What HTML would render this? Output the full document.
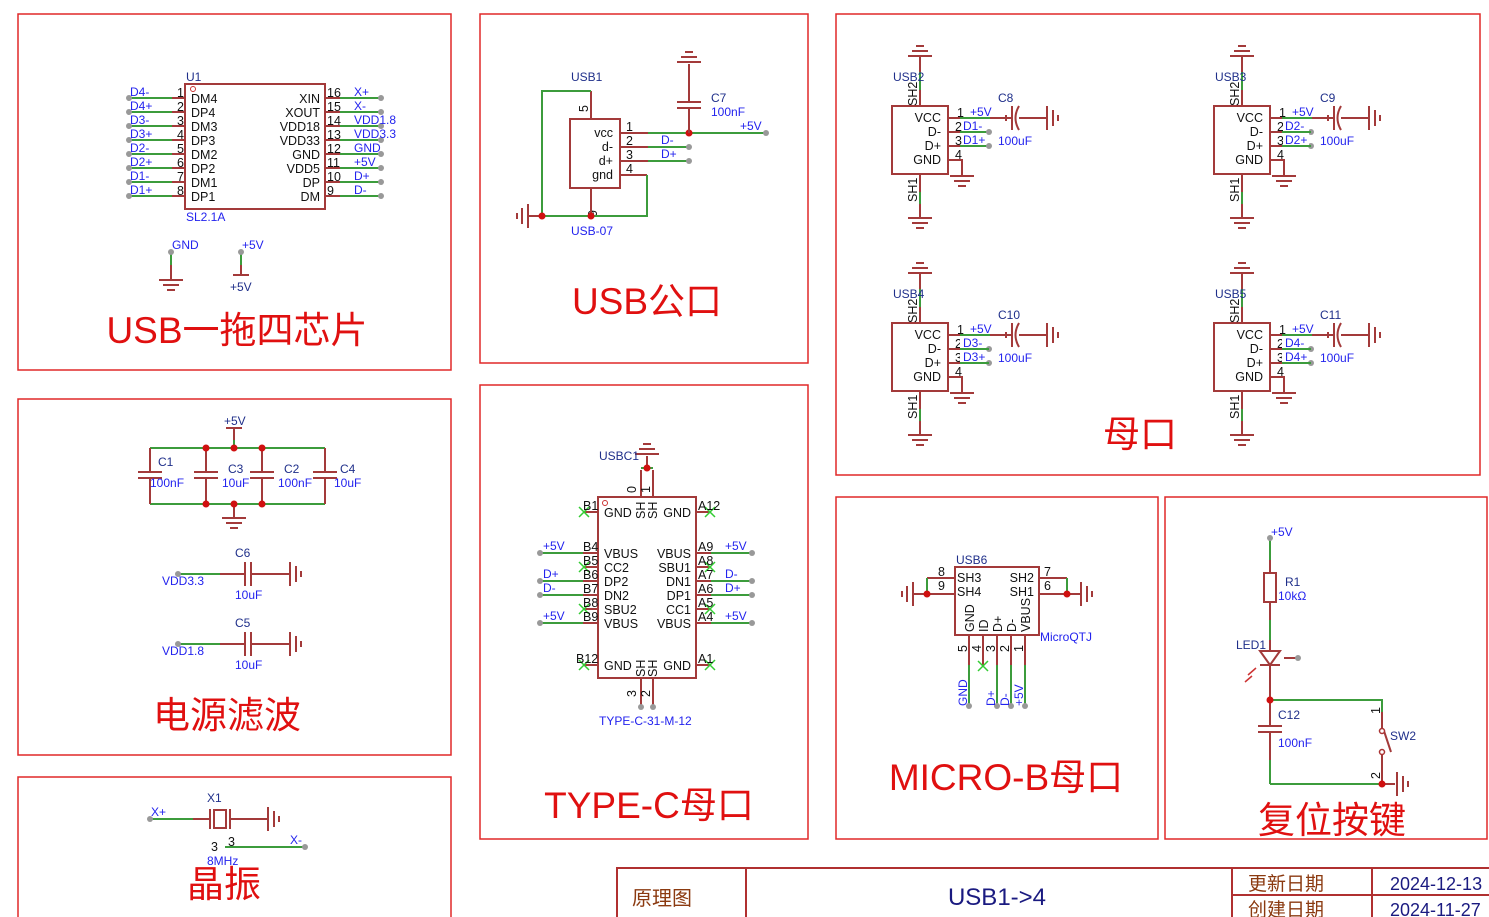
<!DOCTYPE html>
<html><head><meta charset="utf-8"><style>
html,body{margin:0;padding:0;background:#fff}
svg{display:block}
text{font-family:"Liberation Sans","Noto Sans CJK SC",sans-serif}
.g{stroke:#3c9c3c;stroke-width:2;fill:none}
.r{stroke:#a33a3a;stroke-width:2;fill:none}
.f{stroke:#e02828;stroke-width:1.5;fill:none}
.bx{stroke:#a33a3a;stroke-width:2;fill:none}
.k{font-size:12.5px;fill:#111}
.n{font-size:11px;fill:#111}
.b{font-size:12px;fill:#2323ee}
.d{font-size:12px;fill:#1f2f8a}
.t{font-size:37px;fill:#e01010}
.dot{fill:#999}
.j{fill:#d01010}
.x{stroke:#3c3;stroke-width:1.5}
</style></head><body>
<svg width="1489" height="917" viewBox="0 0 1489 917" xmlns="http://www.w3.org/2000/svg">
<defs>
<g id="gd" class="r"><path d="M-12 0H12M-8 5H8M-4 10H4"/></g>
<g id="gu" class="r"><path d="M-12 0H12M-8 -5H8M-4 -10H4"/></g>
<g id="gr" class="r"><path d="M0 -12V12M6 -8V8M11 -3V3"/></g>
<g id="gl" class="r"><path d="M0 -12V12M-6 -8V8M-11 -3V3"/></g>
</defs>

<!-- frames -->
<rect class="f" x="18" y="14" width="433" height="356"/>
<rect class="f" x="480" y="14" width="328" height="349"/>
<rect class="f" x="836" y="14" width="644" height="461"/>
<rect class="f" x="18" y="399" width="433" height="356"/>
<rect class="f" x="480" y="385" width="328" height="454"/>
<rect class="f" x="836" y="497" width="322" height="342"/>
<rect class="f" x="1165" y="497" width="322" height="342"/>
<rect class="f" x="18" y="777" width="433" height="145"/>
<path d="M617 920V868H1489M746 868V920M1232 868V920M1372 868V920M1232 895H1489" stroke="#b03030" stroke-width="2" fill="none"/>
<text x="632" y="905" style="font-size:20px;fill:#8b3a10">原理图</text>
<text x="997" y="905" text-anchor="middle" style="font-size:24px;fill:#1a1a80">USB1-&gt;4</text>
<text x="1248" y="890" style="font-size:19px;fill:#8b3a10">更新日期</text>
<text x="1248" y="916" style="font-size:19px;fill:#8b3a10">创建日期</text>
<text x="1390" y="890" style="font-size:18px;fill:#1a1a80">2024-12-13</text>
<text x="1390" y="916" style="font-size:18px;fill:#1a1a80">2024-11-27</text>

<!-- titles -->
<text class="t" x="237" y="343" text-anchor="middle">USB一拖四芯片</text>
<text class="t" x="647" y="314" text-anchor="middle">USB公口</text>
<text class="t" x="1140" y="447" text-anchor="middle">母口</text>
<text class="t" x="227" y="728" text-anchor="middle">电源滤波</text>
<text class="t" x="649" y="818" text-anchor="middle">TYPE-C母口</text>
<text class="t" x="1006" y="790" text-anchor="middle">MICRO-B母口</text>
<text class="t" x="1332" y="833" text-anchor="middle">复位按键</text>
<text class="t" x="224" y="897" text-anchor="middle">晶振</text>

<!-- ===== U1 ===== -->
<rect class="bx" x="185" y="84" width="140" height="125"/>
<circle cx="193" cy="89" r="2.5" fill="none" stroke="#c33" stroke-width="1"/>
<text class="d" x="186" y="81">U1</text>
<text class="b" x="186" y="221">SL2.1A</text>
<path class="g" d="M129 98H172M129 112H172M129 126H172M129 140H172M129 154H172M129 168H172M129 182H172M129 196H172"/>
<path class="r" d="M172 98H185M172 112H185M172 126H185M172 140H185M172 154H185M172 168H185M172 182H185M172 196H185"/>
<path class="g" d="M340 98H381M340 112H381M340 126H381M340 140H381M340 154H381M340 168H381M340 182H381M340 196H381"/>
<path class="r" d="M325 98H340M325 112H340M325 126H340M325 140H340M325 154H340M325 168H340M325 182H340M325 196H340"/>
<g class="dot"><circle cx="129" cy="98" r="3"/><circle cx="129" cy="112" r="3"/><circle cx="129" cy="126" r="3"/><circle cx="129" cy="140" r="3"/><circle cx="129" cy="154" r="3"/><circle cx="129" cy="168" r="3"/><circle cx="129" cy="182" r="3"/><circle cx="129" cy="196" r="3"/>
<circle cx="381" cy="98" r="3"/><circle cx="381" cy="112" r="3"/><circle cx="381" cy="126" r="3"/><circle cx="381" cy="140" r="3"/><circle cx="381" cy="154" r="3"/><circle cx="381" cy="168" r="3"/><circle cx="381" cy="182" r="3"/><circle cx="381" cy="196" r="3"/></g>
<g class="b"><text x="130" y="96">D4-</text><text x="130" y="110">D4+</text><text x="130" y="124">D3-</text><text x="130" y="138">D3+</text><text x="130" y="152">D2-</text><text x="130" y="166">D2+</text><text x="130" y="180">D1-</text><text x="130" y="194">D1+</text>
<text x="354" y="96">X+</text><text x="354" y="110">X-</text><text x="354" y="124">VDD1.8</text><text x="354" y="138">VDD3.3</text><text x="354" y="152">GND</text><text x="354" y="166">+5V</text><text x="354" y="180">D+</text><text x="354" y="194">D-</text></g>
<g class="k" text-anchor="end"><text x="184" y="97">1</text><text x="184" y="111">2</text><text x="184" y="125">3</text><text x="184" y="139">4</text><text x="184" y="153">5</text><text x="184" y="167">6</text><text x="184" y="181">7</text><text x="184" y="195">8</text></g>
<g class="k"><text x="191" y="103">DM4</text><text x="191" y="117">DP4</text><text x="191" y="131">DM3</text><text x="191" y="145">DP3</text><text x="191" y="159">DM2</text><text x="191" y="173">DP2</text><text x="191" y="187">DM1</text><text x="191" y="201">DP1</text>
<text x="327" y="97">16</text><text x="327" y="111">15</text><text x="327" y="125">14</text><text x="327" y="139">13</text><text x="327" y="153">12</text><text x="327" y="167">11</text><text x="327" y="181">10</text><text x="327" y="195">9</text></g>
<g class="k" text-anchor="end"><text x="320" y="103">XIN</text><text x="320" y="117">XOUT</text><text x="320" y="131">VDD18</text><text x="320" y="145">VDD33</text><text x="320" y="159">GND</text><text x="320" y="173">VDD5</text><text x="320" y="187">DP</text><text x="320" y="201">DM</text></g>
<path class="g" d="M171 252V265M241 252V265"/><path class="r" d="M171 265V280M241 265V275M233 275H249"/>
<use href="#gd" x="171" y="280"/>
<circle class="dot" cx="171" cy="252" r="3"/><circle class="dot" cx="241" cy="252" r="3"/>
<text class="b" x="172" y="249">GND</text><text class="b" x="242" y="249">+5V</text><text class="d" x="230" y="291">+5V</text>

<!-- ===== USB1 ===== -->
<rect class="bx" x="570" y="119" width="50" height="69"/>
<text class="d" x="571" y="81">USB1</text><text class="b" x="571" y="235">USB-07</text>
<g class="k" text-anchor="end"><text x="613" y="137">vcc</text><text x="613" y="151">d-</text><text x="613" y="165">d+</text><text x="613" y="179">gnd</text></g>
<g class="k"><text x="626" y="131">1</text><text x="626" y="145">2</text><text x="626" y="159">3</text><text x="626" y="173">4</text></g>
<text class="k" transform="translate(588,112) rotate(-90)">5</text>
<text class="k" transform="translate(588,210) rotate(90)">6</text>
<path class="r" d="M620 133H648M620 147H648M620 161H648M620 175H647M591 119V91M591 188V216M528 216H542"/>
<path class="g" d="M648 133H766M648 147H689M648 161H689M647 175V216H542V91H591"/>
<use href="#gl" x="528" y="216"/>
<circle class="j" cx="542" cy="216" r="3.5"/><circle class="j" cx="591" cy="216" r="3.5"/><circle class="j" cx="689" cy="133" r="3.5"/>
<g class="dot"><circle cx="766" cy="133" r="3"/><circle cx="689" cy="147" r="3"/><circle cx="689" cy="161" r="3"/></g>
<text class="b" x="661" y="144">D-</text><text class="b" x="661" y="158">D+</text><text class="b" x="740" y="130">+5V</text>
<path class="r" d="M689 133V108M677 108H701M677 102H701M689 102V64"/>
<use href="#gu" x="689" y="62"/>
<text class="d" x="711" y="102">C7</text><text class="b" x="711" y="116">100nF</text>

<!-- ===== USB2..5 ===== -->
<g id="usbA">
<rect class="bx" x="892" y="106" width="56" height="68"/>
<g class="k" text-anchor="end"><text x="941" y="122">VCC</text><text x="941" y="136">D-</text><text x="941" y="150">D+</text><text x="941" y="164">GND</text></g>
<g class="k"><text x="957" y="117">1</text><text x="955" y="131">2</text><text x="955" y="145">3</text><text x="955" y="159">4</text></g>
<path class="r" d="M948 118H960M990 118H1012M948 132H960M948 146H960M948 160H962V176M920 106V56M920 174V218M1019 118H1047M1006 115V121M1003 118H1009M1012 106V130"/>
<path d="M1019 106Q1012 118 1019 130" stroke="#a33a3a" stroke-width="2" fill="none"/>
<path class="g" d="M960 118H990M960 132H989M960 146H989M920 72V90M920 192V204"/>
<use href="#gd" x="962" y="176"/><use href="#gu" x="920" y="56"/><use href="#gd" x="920" y="218"/><use href="#gr" x="1047" y="118"/>
<circle class="dot" cx="989" cy="132" r="3"/><circle class="dot" cx="989" cy="146" r="3"/>
<text class="k" transform="translate(917,106) rotate(-90)">SH2</text>
<text class="k" transform="translate(917,202) rotate(-90)">SH1</text>
<text class="b" x="970" y="116">+5V</text><text class="d" x="998" y="102">C8</text><text class="b" x="998" y="145">100uF</text>
</g>
<text class="d" x="893" y="81">USB2</text>
<g class="b"><text x="963" y="130">D1-</text><text x="963" y="144">D1+</text></g>
<g transform="translate(322,0)"><use href="#usbA"/></g>
<rect x="1310" y="92" width="30" height="12" fill="#fff"/><text class="d" x="1320" y="102">C9</text>
<rect x="1283" y="121" width="26" height="26" fill="#fff"/>
<path class="g" d="M1282 132H1311M1282 146H1311"/>
<text class="d" x="1215" y="81">USB3</text>
<g class="b"><text x="1285" y="130">D2-</text><text x="1285" y="144">D2+</text></g>
<g transform="translate(0,217)"><use href="#usbA"/></g>
<rect x="960" y="338" width="26" height="26" fill="#fff"/><rect x="996" y="309" width="26" height="12" fill="#fff"/>
<path class="g" d="M960 349H989M960 363H989"/>
<text class="d" x="998" y="319">C10</text>
<text class="d" x="893" y="298">USB4</text>
<g class="b"><text x="963" y="347">D3-</text><text x="963" y="361">D3+</text></g>
<g transform="translate(322,217)"><use href="#usbA"/></g>
<rect x="1282" y="338" width="26" height="26" fill="#fff"/><rect x="1318" y="309" width="26" height="12" fill="#fff"/>
<path class="g" d="M1282 349H1311M1282 363H1311"/>
<text class="d" x="1320" y="319">C11</text>
<text class="d" x="1215" y="298">USB5</text>
<g class="b"><text x="1285" y="347">D4-</text><text x="1285" y="361">D4+</text></g>

<!-- ===== power filter ===== -->
<path class="g" d="M150 448H325M150 504H325M234 448V440"/>
<path class="r" d="M150 448V472M150 478V504M138 472H162M138 478H162M206 448V472M206 478V504M194 472H218M194 478H218M262 448V472M262 478V504M250 472H274M250 478H274M325 448V472M325 478V504M313 472H337M313 478H337M234 440V428M226 428H242M234 504V518"/>
<use href="#gd" x="234" y="518"/>
<g class="j"><circle cx="206" cy="448" r="3.5"/><circle cx="234" cy="448" r="3.5"/><circle cx="262" cy="448" r="3.5"/><circle cx="206" cy="504" r="3.5"/><circle cx="234" cy="504" r="3.5"/><circle cx="262" cy="504" r="3.5"/></g>
<text class="d" x="224" y="425">+5V</text>
<text class="d" x="158" y="466">C1</text><text class="b" x="150" y="487">100nF</text>
<text class="d" x="228" y="473">C3</text><text class="b" x="222" y="487">10uF</text>
<text class="d" x="284" y="473">C2</text><text class="b" x="278" y="487">100nF</text>
<text class="d" x="340" y="473">C4</text><text class="b" x="334" y="487">10uF</text>
<path class="g" d="M178 574H220M178 644H220"/>
<path class="r" d="M220 574H245M251 574H290M245 562V586M251 562V586M220 644H245M251 644H290M245 632V656M251 632V656"/>
<use href="#gr" x="290" y="574"/><use href="#gr" x="290" y="644"/>
<circle class="dot" cx="178" cy="574" r="3"/><circle class="dot" cx="178" cy="644" r="3"/>
<text class="d" x="235" y="557">C6</text><text class="b" x="235" y="599">10uF</text><text class="b" x="162" y="585">VDD3.3</text>
<text class="d" x="235" y="627">C5</text><text class="b" x="235" y="669">10uF</text><text class="b" x="162" y="655">VDD1.8</text>

<!-- ===== TYPE-C ===== -->
<rect class="bx" x="598" y="497" width="98" height="181"/>
<circle cx="605" cy="503" r="2.5" fill="none" stroke="#c33" stroke-width="1"/>
<path class="r" d="M583 512H598M583 553H598M583 567H598M583 581H598M583 595H598M583 609H598M583 623H598M583 665H598M696 512H711M696 553H711M696 567H711M696 581H711M696 595H711M696 609H711M696 623H711M696 665H711M641 497V470M653 497V470M647 467V456M641 678V707M653 678V707"/>
<path class="g" d="M540 553H583M540 581H583M540 595H583M540 623H583M711 553H752M711 581H752M711 595H752M711 623H752M641 468H653"/>
<use href="#gu" x="647" y="454"/>
<circle class="j" cx="647" cy="468" r="3.5"/>
<g class="dot"><circle cx="540" cy="553" r="3"/><circle cx="540" cy="581" r="3"/><circle cx="540" cy="595" r="3"/><circle cx="540" cy="623" r="3"/><circle cx="752" cy="553" r="3"/><circle cx="752" cy="581" r="3"/><circle cx="752" cy="595" r="3"/><circle cx="752" cy="623" r="3"/><circle cx="641" cy="707" r="3"/><circle cx="653" cy="707" r="3"/></g>
<g class="x"><path d="M579 507l10 10M589 507l-10 10M579 562l10 10M589 562l-10 10M579 604l10 10M589 604l-10 10M579 660l10 10M589 660l-10 10M705 507l10 10M715 507l-10 10M705 562l10 10M715 562l-10 10M705 604l10 10M715 604l-10 10M705 660l10 10M715 660l-10 10"/></g>
<g class="k"><text x="583" y="510">B1</text><text x="583" y="551">B4</text><text x="583" y="565">B5</text><text x="583" y="579">B6</text><text x="583" y="593">B7</text><text x="583" y="607">B8</text><text x="583" y="621">B9</text><text x="576" y="663">B12</text>
<text x="698" y="510">A12</text><text x="698" y="551">A9</text><text x="698" y="565">A8</text><text x="698" y="579">A7</text><text x="698" y="593">A6</text><text x="698" y="607">A5</text><text x="698" y="621">A4</text><text x="698" y="663">A1</text>
<text x="604" y="517">GND</text><text x="604" y="558">VBUS</text><text x="604" y="572">CC2</text><text x="604" y="586">DP2</text><text x="604" y="600">DN2</text><text x="604" y="614">SBU2</text><text x="604" y="628">VBUS</text><text x="604" y="670">GND</text></g>
<g class="k" text-anchor="end"><text x="691" y="517">GND</text><text x="691" y="558">VBUS</text><text x="691" y="572">SBU1</text><text x="691" y="586">DN1</text><text x="691" y="600">DP1</text><text x="691" y="614">CC1</text><text x="691" y="628">VBUS</text><text x="691" y="670">GND</text></g>
<g class="k"><text transform="translate(645,519) rotate(-90)">SH</text><text transform="translate(657,519) rotate(-90)">SH</text><text transform="translate(645,677) rotate(-90)">SH</text><text transform="translate(657,677) rotate(-90)">SH</text>
<text transform="translate(636,493) rotate(-90)">0</text><text transform="translate(650,493) rotate(-90)">1</text><text transform="translate(636,697) rotate(-90)">3</text><text transform="translate(650,697) rotate(-90)">2</text></g>
<g class="b"><text x="543" y="550">+5V</text><text x="543" y="578">D+</text><text x="543" y="592">D-</text><text x="543" y="620">+5V</text><text x="725" y="550">+5V</text><text x="725" y="578">D-</text><text x="725" y="592">D+</text><text x="725" y="620">+5V</text></g>
<text class="d" x="599" y="460">USBC1</text><text class="b" x="599" y="725">TYPE-C-31-M-12</text>

<!-- ===== MICRO-B ===== -->
<rect class="bx" x="955" y="567" width="84" height="68"/>
<text class="d" x="956" y="564">USB6</text><text class="b" x="1040" y="641">MicroQTJ</text>
<g class="k"><text x="957" y="582">SH3</text><text x="957" y="596">SH4</text><text x="938" y="576">8</text><text x="938" y="590">9</text><text x="1044" y="576">7</text><text x="1044" y="590">6</text></g>
<g class="k" text-anchor="end"><text x="1034" y="582">SH2</text><text x="1034" y="596">SH1</text></g>
<path class="r" d="M955 578H927M955 594H913M1039 578H1067M1039 594H1081M969 635V665M983 635V665M997 635V665M1011 635V665M1025 635V665"/>
<path class="g" d="M927 578V594M1067 578V594M969 665V706M997 665V706M1011 665V706M1025 665V706"/>
<use href="#gl" x="913" y="594"/><use href="#gr" x="1081" y="594"/>
<circle class="j" cx="927" cy="594" r="3.5"/><circle class="j" cx="1067" cy="594" r="3.5"/>
<path class="x" d="M978 661l10 10M988 661l-10 10"/>
<g class="dot"><circle cx="969" cy="706" r="3"/><circle cx="997" cy="706" r="3"/><circle cx="1011" cy="706" r="3"/><circle cx="1025" cy="706" r="3"/></g>
<g class="k"><text transform="translate(974,632) rotate(-90)">GND</text><text transform="translate(988,632) rotate(-90)">ID</text><text transform="translate(1002,632) rotate(-90)">D+</text><text transform="translate(1016,632) rotate(-90)">D-</text><text transform="translate(1030,632) rotate(-90)">VBUS</text>
<text transform="translate(967,652) rotate(-90)">5</text><text transform="translate(981,652) rotate(-90)">4</text><text transform="translate(995,652) rotate(-90)">3</text><text transform="translate(1009,652) rotate(-90)">2</text><text transform="translate(1023,652) rotate(-90)">1</text></g>
<g class="b"><text transform="translate(967,706) rotate(-90)">GND</text><text transform="translate(995,706) rotate(-90)">D+</text><text transform="translate(1009,706) rotate(-90)">D-</text><text transform="translate(1023,706) rotate(-90)">+5V</text></g>

<!-- ===== reset ===== -->
<path class="g" d="M1270 538V560M1270 620V640M1270 700H1382V712M1270 784H1382"/>
<path class="r" d="M1270 560V573M1270 602V620M1270 640V651M1260 651H1280L1270 665ZM1260 665H1280M1270 665V726M1258 726H1282M1258 732H1282M1270 732V760M1284 658H1298M1382 712V728M1382 755V784H1395M1384 731L1391 752"/>
<path class="g" d="M1270 760V784"/>
<rect class="bx" x="1264" y="573" width="12" height="29"/>
<path d="M1256 668l-8 7M1252 676l-7 6" stroke="#c33" stroke-width="1.5"/>
<circle cx="1382" cy="731" r="2.5" fill="#fff" stroke="#a33" stroke-width="1.5"/><circle cx="1382" cy="752" r="2.5" fill="#fff" stroke="#a33" stroke-width="1.5"/>
<use href="#gr" x="1397" y="784"/>
<circle class="j" cx="1270" cy="700" r="3.5"/><circle class="j" cx="1382" cy="784" r="3.5"/>
<circle class="dot" cx="1270" cy="538" r="3"/><circle class="dot" cx="1298" cy="658" r="3"/>
<text class="b" x="1271" y="536">+5V</text>
<text class="d" x="1285" y="586">R1</text><text class="b" x="1278" y="600">10kΩ</text>
<text class="d" x="1236" y="649">LED1</text>
<text class="d" x="1278" y="719">C12</text><text class="b" x="1278" y="747">100nF</text>
<text class="d" x="1390" y="740">SW2</text>
<text class="k" transform="translate(1380,714) rotate(-90)">1</text>
<text class="k" transform="translate(1380,779) rotate(-90)">2</text>

<!-- ===== crystal ===== -->
<path class="g" d="M150 819H193M225 847H305"/>
<path class="r" d="M193 819H210M230 819H268M210 809V829M230 809V829"/>
<rect class="bx" x="214" y="810" width="12" height="18"/>
<use href="#gr" x="268" y="819"/>
<circle class="dot" cx="150" cy="819" r="3"/><circle class="dot" cx="305" cy="847" r="3"/>
<text class="b" x="151" y="816">X+</text><text class="b" x="290" y="844">X-</text>
<text class="d" x="207" y="802">X1</text>
<text class="k" x="228" y="846">3</text><text class="k" x="211" y="851">3</text>
<text class="b" x="207" y="865">8MHz</text>
</svg>
</body></html>
